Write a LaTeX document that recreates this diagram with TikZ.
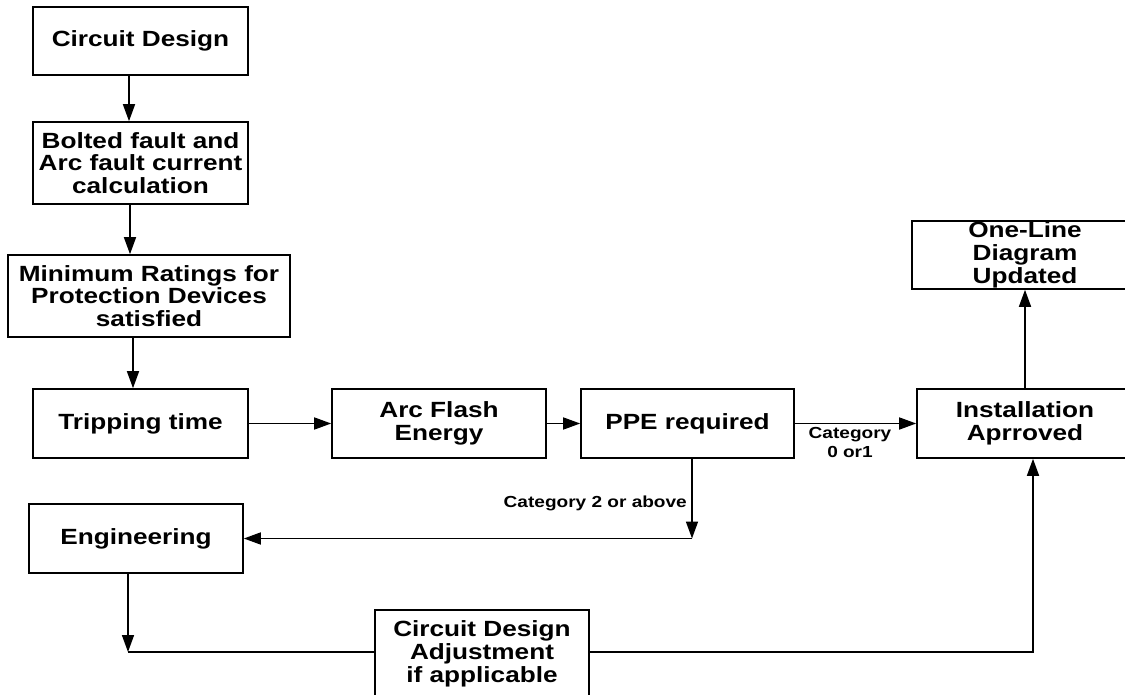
\documentclass[tikz,border=0pt]{standalone}
\usepackage{fontspec}
\setmainfont{Liberation Sans}[FakeStretch=1.19]
\usetikzlibrary{arrows.meta,calc}
\begin{document}
\begin{tikzpicture}[x=1pt,y=-1pt,
  box/.style={draw,line width=1.6pt,align=center,font=\fontsize{22}{22.7}\selectfont\bfseries,inner sep=0pt},
  lbl/.style={align=center,font=\fontsize{16}{19}\selectfont\bfseries,inner sep=0pt},
  arr/.style={line width=1.6pt,-{Triangle[length=17pt,width=12pt]}},
  ln/.style={line width=1.6pt}]
\useasboundingbox (0,0) rectangle (1125,695);
\fill[white] (0,0) rectangle (1125,695);
\node[box,minimum width=215pt,minimum height=68pt] (cd) at (140.5,41) {Circuit Design};
\node[box,minimum width=215pt,minimum height=82pt] (bf) at (140.5,163) {Bolted fault and\\Arc fault current\\calculation};
\node[box,minimum width=282pt,minimum height=82pt] (mr) at (149,296) {Minimum Ratings for\\Protection Devices\\satisfied};
\node[box,minimum width=215pt,minimum height=69pt] (tt) at (140.5,423.5) {Tripping time};
\node[box,minimum width=214pt,minimum height=69pt] (af) at (439,423.5) {Arc Flash\\Energy};
\node[box,minimum width=213pt,minimum height=69pt] (ppe) at (687.5,423.5) {PPE required};
\node[box,minimum width=216pt,minimum height=69pt] (ia) at (1025,423.5) {Installation\\Aprroved};
\node[box,minimum width=226pt,minimum height=68pt] (od) at (1025,255) {One-Line\\Diagram\\Updated};
\node[box,minimum width=214pt,minimum height=69pt] (eng) at (136,538.5) {Engineering};
\node[box,minimum width=214pt,minimum height=88pt] (adj) at (482,654) {Circuit Design\\Adjustment\\if applicable};

\coordinate (c1) at (692,538.5);
\coordinate (c2) at (128,652);

\draw[arr] ([xshift=-11.5pt]cd.south) -- ([xshift=-11.5pt]bf.north);
\draw[arr] ([xshift=-10.5pt]bf.south) -- ([xshift=-19pt]mr.north);
\draw[arr] ([xshift=-16pt]mr.south) -- ([xshift=-7.5pt]tt.north);
\draw[arr] (tt.east) -- (af.west);
\draw[arr] (af.east) -- (ppe.west);
\draw[arr] (ppe.east) -- (ia.west);
\node[lbl] (l1) at (850,442) {Category\\0 or1};
\draw[arr] (ppe.south -| c1) -- (c1);
\draw[arr] (c1) -- (eng.east);
\node[lbl,anchor=east] (l2) at (687,503) {Category 2 or above};
\draw[arr] (eng.south -| c2) -- (c2);
\draw[ln] (c2) -- (adj.west |- c2);
\coordinate (c3) at (1033,652);
\draw[arr] (adj.east |- c3) -- (c3) -- (ia.south -| c3);
\draw[arr] (ia.north) -- (od.south);
\end{tikzpicture}
\end{document}
